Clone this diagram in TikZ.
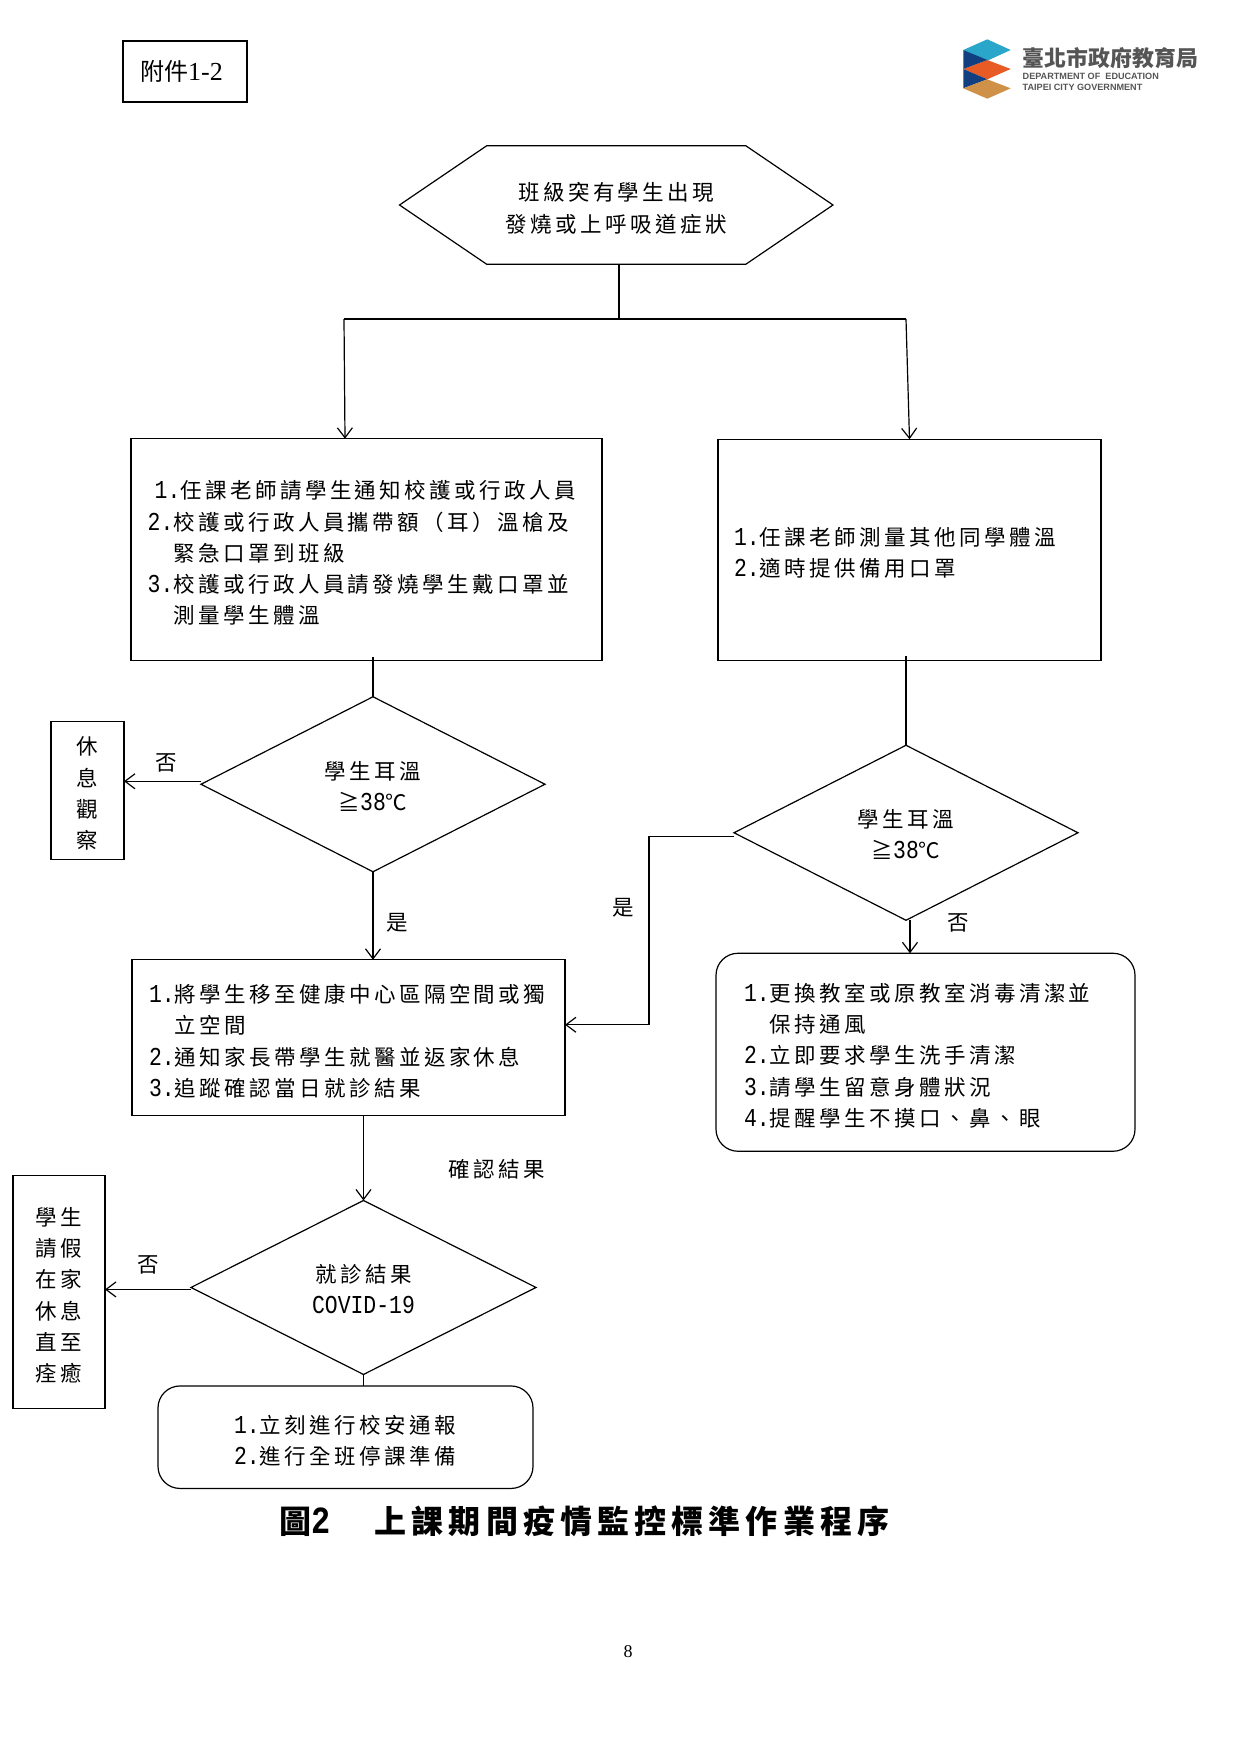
\documentclass[tikz,border=0pt]{standalone}
\usepackage{xcolor}
\usepackage{fontspec}
\usepackage{tikz}
\usetikzlibrary{shapes.geometric, shapes.symbols, arrows.meta, positioning}
\setmainfont{Noto Sans CJK TC}[LetterSpace=16]
\newfontfamily\plaincjk{Noto Sans CJK TC}
\newfontfamily\latinfont{Liberation Mono}[Scale=1.2, FakeStretch=0.83]
\newfontfamily\tagfont{Liberation Serif}
\newfontfamily\logofont{Liberation Sans}
\newcommand{\lat}[1]{{\latinfont #1}}
\newcommand{\hangin}{\hspace*{25.7pt}}
\definecolor{logosky}{HTML}{2BA6CB}
\definecolor{logonavy}{HTML}{123F80}
\definecolor{logoorange}{HTML}{E85B24}
\definecolor{logotan}{HTML}{CF9148}
\definecolor{logotext}{HTML}{555555}
\begin{document}
\begin{tikzpicture}[
    x=1pt, y=-1pt,
    every node/.style={outer sep=0pt},
    txt/.style={font=\fontsize{21.5}{31.3}\selectfont},
    lowered/.style={execute at begin node={\rule{0pt}{#1}}},
    box/.style={txt, lowered=25pt, rectangle, draw, line width=1.2pt, align=left, inner ysep=0pt},
    rbox/.style={box, rounded corners=22pt},
    vbox/.style={box, align=center, inner xsep=0pt},
    hexa/.style={txt, lowered=25pt, signal, signal to=west and east, signal pointer angle=68.4,
                 draw, line width=1.2pt, align=center, text width=250pt,
                 minimum width=433.5pt, minimum height=118.5pt, inner sep=0pt},
    diam/.style={txt, lowered=22pt, diamond, draw, line width=1.2pt, align=center, inner sep=0pt,
                 text width=190pt, aspect=1.97, minimum width=344pt, minimum height=175pt},
    arr/.style={-{Straight Barb[length=10pt, width=15pt, line width=1.2pt]}, line width=1.2pt},
    lin/.style={line width=1.2pt},
    lbl/.style={txt, inner sep=0pt}
  ]
    \useasboundingbox (0,0) rectangle (1241,1754);

    \fill[logosky] (963.3,50) -- (987.3,39.3) -- (1010.7,50) -- (987.3,60.7) -- cycle;
    \fill[logoorange] (963.3,69) -- (987.3,60) -- (1010.7,69) -- (987.3,79.3) -- cycle;
    \fill[logonavy] (963.3,50) -- (987.3,60) -- (963.3,69) -- cycle;
    \fill[logonavy] (963.3,69) -- (987.3,79.3) -- (963.3,88.3) -- cycle;
    \fill[logotan] (963.3,88.3) -- (987.3,79.3) -- (1010.7,88.3) -- (987.3,98.7) -- cycle;
    \node[anchor=west, inner sep=0pt, text=logotext, font=\plaincjk\bfseries\fontsize{21.9}{24}\selectfont]
      (logoname) at (1022.7,58) {臺北市政府教育局};
    \node[anchor=west, inner sep=0pt, text=logotext, font=\logofont\bfseries\fontsize{9.1}{10}\selectfont]
      (logodept) at (1022.7,76.5) {DEPARTMENT OF\ \ EDUCATION};
    \node[anchor=west, inner sep=0pt, text=logotext, font=\logofont\bfseries\fontsize{9.1}{10}\selectfont]
      (logocity) at (1022.7,87.5) {TAIPEI CITY GOVERNMENT};

    \node[rectangle, draw, line width=1.2pt, minimum width=124pt, minimum height=61pt,
          font=\plaincjk\fontsize{24}{28}\selectfont]
      (tag) at (185,71.5) {附件{\tagfont\fontsize{26}{28}\selectfont 1-2}\hspace*{7pt}};

    \node[hexa] (start) at (616.25,205) {班級突有學生出現\\發燒或上呼吸道症狀};
    \node[box, below=174.5pt of start, xshift=-249.75pt, minimum height=222pt,
          inner xsep=16.7pt, text width=437.6pt] (nurse)
      {\hspace*{7pt}\lat{1.}任課老師請學生通知校護或行政人員\\
       \lat{2.}校護或行政人員攜帶額（耳）溫槍及\\
       \hangin 緊急口罩到班級\\
       \lat{3.}校護或行政人員請發燒學生戴口罩並\\
       \hangin 測量學生體溫};
    \node[box, right=116pt of nurse, minimum height=221pt,
          inner xsep=16pt, text width=351pt] (teacher)
      {\lat{1.}任課老師測量其他同學體溫\\
       \lat{2.}適時提供備用口罩};

    \node[diam, below=36pt of nurse, xshift=6.5pt] (tempa) {學生耳溫\\≧\lat{38}℃};
    \node[vbox, left=77pt of tempa, yshift=-6pt, text width=73pt, minimum height=138pt]
      (rest) {休\\息\\觀\\察};
    \node[box, below=88pt of tempa, xshift=-24.5pt, minimum height=156pt,
          inner xsep=17pt, text width=399pt] (home)
      {\lat{1.}將學生移至健康中心區隔空間或獨\\
       \hangin 立空間\\
       \lat{2.}通知家長帶學生就醫並返家休息\\
       \lat{3.}追蹤確認當日就診結果};

    \node[diam, below=85pt of teacher, xshift=-3.5pt] (tempb) {學生耳溫\\≧\lat{38}℃};
    \node[rbox, below=33pt of tempb, xshift=19.5pt, minimum height=198pt,
          inner xsep=28pt, text width=363pt] (clean)
      {\lat{1.}更換教室或原教室消毒清潔並\\
       \hangin 保持通風\\
       \lat{2.}立即要求學生洗手清潔\\
       \lat{3.}請學生留意身體狀況\\
       \lat{4.}提醒學生不摸口、鼻、眼};

    \node[diam, below=84.7pt of home, xshift=15pt, minimum width=345pt, minimum height=174pt]
      (result) {就診結果\\\lat{COVID-19}};
    \node[vbox, left=86pt of result, yshift=-4.5pt, text width=92pt, minimum height=233pt]
      (leave) {學生\\請假\\在家\\休息\\直至\\痊癒};
    \node[rbox, below=11.5pt of result, xshift=-18pt, minimum height=102.5pt,
          inner xsep=76pt, text width=223pt] (report)
      {\lat{1.}立刻進行校安通報\\
       \lat{2.}進行全班停課準備};

    \node[below=17pt of report, xshift=239pt, inner sep=0pt,
          font=\bfseries\fontsize{32}{38}\selectfont] (title)
      {圖{\latinfont\bfseries 2}\hspace{44pt}上課期間疫情監控標準作業程序};
    \node[inner sep=0pt, font=\tagfont\fontsize{18}{22}\selectfont] (page) at (628,1652) {8};

    \coordinate (split) at (619,319);
    \coordinate (splitl) at (344,319);
    \coordinate (splitr) at (906,319);
    \draw[lin] (split |- start.south) -- (split);
    \draw[lin] (splitl) -- (splitr);
    \draw[arr] (splitl) -- ([xshift=-21.5pt]nurse.north);
    \draw[arr] (splitr) -- (teacher.north);
    \draw[lin] ([yshift=4pt]tempa.north |- nurse.south) -- (tempa.north);
    \draw[lin] ([yshift=4pt]tempb.north |- teacher.south) -- (tempb.north);
    \draw[arr] ([yshift=3pt]tempa.west) -- ([yshift=3pt]tempa.west -| rest.east)
      node[midway, above=9pt, xshift=4pt, lbl] {否};
    \draw[arr] (tempa.south) -- (tempa.south |- home.north)
      node[pos=.58, right=13pt, lbl] {是};
    \draw[arr] ([yshift=-3.5pt]tempb.west) -- ++(-85,0) |- ([yshift=13pt]home.east)
      node[pos=.19, left=15pt, lbl] {是};
    \draw[arr] ([xshift=4pt]tempb.south) -- ([xshift=4pt]tempb.south |- clean.north)
      node[pos=0, right=37pt, yshift=-3pt, lbl] {否};
    \draw[arr] (result.north |- home.south) -- (result.north)
      node[pos=.63, right=85pt, lbl] {確認結果};
    \draw[arr] ([yshift=-2pt]result.west) -- ([yshift=-2pt]result.west -| leave.east)
      node[midway, above=15pt, lbl] {否};
    \draw[lin] (result.south) -- (result.south |- report.north);
  \end{tikzpicture}
\end{document}
